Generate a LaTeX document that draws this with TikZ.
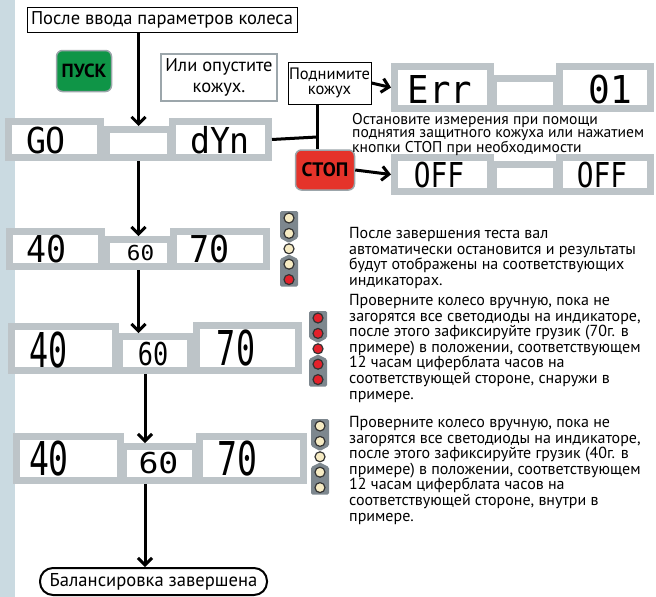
\documentclass[tikz,border=0pt]{standalone}
\usepackage{fontspec}
\setmainfont{PT Sans}
\usetikzlibrary{arrows.meta,positioning}
\definecolor{lcdgray}{HTML}{BDC4C8}
\definecolor{stripgray}{HTML}{7D878E}
\definecolor{ledcream}{HTML}{F6EBC3}
\definecolor{ledred}{HTML}{E4212B}
\definecolor{startgreen}{HTML}{0F9547}
\definecolor{stopred}{HTML}{E5332A}
\definecolor{sidebar}{HTML}{CADAE1}
\definecolor{boxgray}{HTML}{9CA6AB}
\newcommand\lcdfont[2]{\fontspec[FakeStretch=#2]{DejaVu Sans Mono}\fontsize{#1}{#1}\selectfont}
\newcommand\sz[2]{\fontsize{#1}{#2}\selectfont}

\begin{document}
\begin{tikzpicture}[x=1pt,y=-1pt,
    lcd/.style={draw=lcdgray,fill=white,line width=7pt,inner sep=0pt},
    digits/.style={anchor=base,inner sep=0pt},
    flow/.style={line width=3pt,-{Straight Barb[length=7pt,width=14pt]}},
    link/.style={line width=3pt},
    led/.style={circle,draw=black!80,line width=1.2pt,minimum size=10pt,inner sep=0pt},
    note/.style={align=left,anchor=north west,inner sep=0pt,font=\sz{16}{15.6}}]
  \useasboundingbox (0,0) rectangle (656,597);
  \fill[sidebar] (0,0) rectangle (15,597);

  % top part
  \node[draw,line width=1pt,minimum width=270pt,minimum height=25pt,inner sep=0pt,font=\sz{18.5}{18.5}] (title) at (162,19.5) {После ввода параметров колеса};
  \node[draw=boxgray,line width=1.5pt,fill=startgreen,rounded corners=6pt,minimum width=55pt,minimum height=41pt,font=\bfseries\sz{19}{19}] (start) at (84,71) {ПУСК};
  \node[draw=boxgray,line width=1.2pt,minimum width=116pt,minimum height=47pt,align=center,inner sep=0pt,font=\sz{18.5}{21}] (lower) at (219,77.5) {Или опустите\\кожух.};
  \node[draw,line width=1pt,minimum width=83pt,minimum height=42pt,align=center,inner sep=0pt,font=\sz{16.5}{15}] (lift) at (329.5,83) {Поднимите\\кожух};
  \node[draw=boxgray,line width=1.5pt,fill=stopred,rounded corners=6pt,minimum width=59pt,minimum height=40pt,font=\bfseries\sz{19.5}{19.5}] (stop) at (325,170) {СТОП};

  % GO dYn
  \node[lcd,minimum width=64pt,minimum height=28pt] (go-m) at (138.5,143.5) {};
  \node[lcd,minimum width=92pt,minimum height=36pt] (go-l) at (54.5,139.5) {};
  \node[lcd,minimum width=96pt,minimum height=36pt] (go-r) at (220.5,139.5) {};
  \node[digits,font=\lcdfont{35.7}{0.93}] at (46,153) {GO};
  \node[digits,font=\lcdfont{35.7}{0.93}] at (220,153) {dYn};

  % Err 01
  \node[lcd,minimum width=63pt,minimum height=30pt] (err-m) at (525,93.5) {};
  \node[lcd,minimum width=96pt,minimum height=42pt] (err-l) at (442.5,87.5) {};
  \node[lcd,minimum width=91pt,minimum height=42pt] (err-r) at (605,87.5) {};
  \node[digits,font=\lcdfont{38.4}{0.93}] at (440,103) {Err};
  \node[digits,font=\lcdfont{38.4}{0.94}] at (610,103) {01};

  % OFF OFF
  \node[lcd,minimum width=63pt,minimum height=27pt] (off-m) at (525,178) {};
  \node[lcd,minimum width=96pt,minimum height=34pt] (off-l) at (442.5,174.5) {};
  \node[lcd,minimum width=91pt,minimum height=34pt] (off-r) at (605,174.5) {};
  \node[digits,font=\lcdfont{34.3}{0.81}] at (439,187) {OFF};
  \node[digits,font=\lcdfont{34.3}{0.81}] at (602,187) {OFF};

  \node[note,font=\sz{15.6}{12.8}] (stopnote) at (352,113) {Остановите измерения при помощи\\поднятия защитного кожуха или нажатием\\кнопки СТОП при необходимости};

  % 40 60 70, three times
  \node[lcd,minimum width=64pt,minimum height=27pt] (r2-m) at (138.5,253) {};
  \node[lcd,minimum width=92pt,minimum height=35pt] (r2-l) at (55.5,249) {};
  \node[lcd,minimum width=93pt,minimum height=35pt] (r2-r) at (220,249) {};
  \node[digits,font=\lcdfont{37}{0.9}] at (46.5,262) {40};
  \node[digits,font=\lcdfont{20.6}{1.1}] at (140.5,260) {60};
  \node[digits,font=\lcdfont{37}{0.9}] at (210,262) {70};

  \node[lcd,minimum width=71pt,minimum height=34pt] (r3-m) at (155,353.5) {};
  \node[lcd,minimum width=104pt,minimum height=44pt] (r3-l) at (63.5,348.5) {};
  \node[lcd,minimum width=102pt,minimum height=45pt] (r3-r) at (247.5,348) {};
  \node[digits,font=\lcdfont{48}{0.66}] at (49,367) {40};
  \node[digits,font=\lcdfont{31.5}{0.8}] at (153,365) {60};
  \node[digits,font=\lcdfont{48}{0.66}] at (236,365) {70};

  \node[lcd,minimum width=72pt,minimum height=34pt] (r4-m) at (159.5,463.5) {};
  \node[lcd,minimum width=104pt,minimum height=44pt] (r4-l) at (68.5,458.5) {};
  \node[lcd,minimum width=104pt,minimum height=44pt] (r4-r) at (251.5,458.5) {};
  \node[digits,font=\lcdfont{46.6}{0.71}] at (49,475) {40};
  \node[digits,font=\lcdfont{28.8}{1.15}] at (158.5,473) {60};
  \node[digits,font=\lcdfont{46.6}{0.71}] at (237.5,475) {70};

  \node[draw,line width=2pt,rounded corners=13pt,minimum width=227pt,minimum height=27pt,inner sep=0pt,font=\sz{18.6}{18.6}] (done) at (153.5,581.5) {Балансировка завершена};

  % indicator strips
  \foreach \sx/\sy/\sname/\cols in {289/218/sa/{ledcream,ledcream,ledcream,ledcream,ledred},
      318/318/sb/{ledred,ledred,ledred,ledred,ledred},
      320/426/sc/{ledcream,ledcream,ledcream,ledcream,ledcream}}{
    \fill[stripgray,rounded corners=1.5pt] ({\sx-9},{\sy-7}) -- ({\sx+9},{\sy-7}) -- ({\sx+9},{\sy+20}) -- (\sx,{\sy+25}) -- ({\sx-9},{\sy+20}) -- cycle;
    \fill[stripgray,rounded corners=1.5pt] ({\sx-9},{\sy+41}) -- (\sx,{\sy+36.5}) -- ({\sx+9},{\sy+41}) -- ({\sx+9},{\sy+68.5}) -- ({\sx-9},{\sy+68.5}) -- cycle;
    \foreach \c [count=\i] in \cols
      \node[led,fill=\c] (\sname-\i) at (\sx,{\sy+15.4*(\i-1)}) {};
  }

  \node[note] (result) at (349,227) {После завершения теста вал\\автоматически остановится и результаты\\будут отображены на соответствующих\\индикаторах.};
  \node[note] (outer) at (349,294) {Проверните колесо вручную, пока не\\загорятся все светодиоды на индикаторе,\\после этого зафиксируйте грузик (70г. в\\примере) в положении, соответствующем\\12 часам циферблата часов на\\соответствующей стороне, снаружи в\\примере.};
  \node[note] (inner) at (349,416) {Проверните колесо вручную, пока не\\загорятся все светодиоды на индикаторе,\\после этого зафиксируйте грузик (40г. в\\примере) в положении, соответствующем\\12 часам циферблата часов на\\соответствующей стороне, внутри в\\примере.};

  % connectors
  \coordinate (jn) at (317,137);
  \coordinate (axis) at (145,0);
  \draw[flow] (title.south -| go-m) -- (go-m.north);
  \draw[flow] (go-m.south) -- (r2-m.north);
  \draw[flow] (r2-m.south) -- (r3-m.north -| r2-m);
  \draw[flow] (r3-m.south -| axis) -- (r4-m.north -| axis);
  \draw[flow] (r4-m.south -| axis) -- (done.north -| axis);
  \draw[link] (go-r.east) -- (jn);
  \draw[link] (lift.south -| jn) -- (stop.north -| jn);
  \draw[flow] (lift.east) -- (err-l.west);
  \draw[flow] (stop.east) -- (off-l.west);
\end{tikzpicture}
\end{document}
